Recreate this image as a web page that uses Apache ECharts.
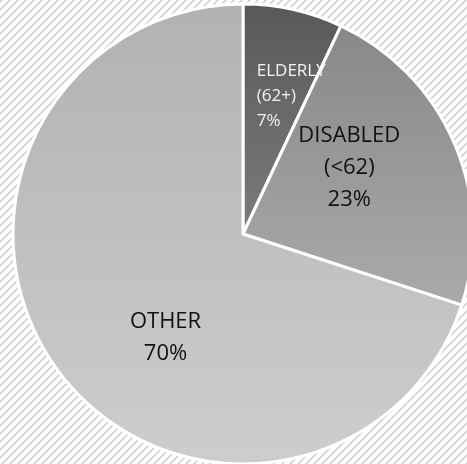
<!DOCTYPE html>
<html>
<head>
<meta charset="utf-8">
<script src="https://cdn.jsdelivr.net/npm/echarts@6/dist/echarts.min.js"></script>
<style>
  html, body { margin: 0; padding: 0; background: #fff; }
  #chart { width: 467px; height: 464px; }
</style>
</head>
<body>
<div id="chart"></div>
<script>
// Household groups and their shares (%)
const categoryLines = [['ELDERLY', '(62+)'], ['DISABLED', '(<62)'], ['OTHER']];
const shares = [7, 23, 70];

// Fill gradients (top → bottom) and label styling for each slice
const gradientStops = [
  ['#585858', '#7c7c7c'],
  ['#888888', '#aaaaaa'],
  ['#b2b2b2', '#cdcdcd']
];
const labelColors = ['#f2f2f2', '#111111', '#111111'];
const labelSizes = [17, 22, 22];
const labelLines = [25, 32, 32];
const labelAlign = ['left', 'center', 'center'];
const labelBoxWidth = [72, 110, 80];
const labelShift = [[24, -23], [-2, -19], [18, 34]];

// Diagonal hatch used as page background
function hatchPattern() {
  const c = document.createElement('canvas');
  c.width = 8; c.height = 8;
  const g = c.getContext('2d');
  g.fillStyle = '#ffffff';
  g.fillRect(0, 0, 8, 8);
  g.fillStyle = '#dadada';
  for (let y = 0; y < 8; y++) {
    for (let x = 0; x < 8; x++) {
      if (((x + y) % 8) < 3) g.fillRect(x, y, 1, 1);
    }
  }
  return c;
}

const chart = echarts.init(document.getElementById('chart'), null, { renderer: 'canvas' });

const data = categoryLines.map((lines, i) => ({
  name: lines.join(' '),
  value: shares[i],
  itemStyle: {
    color: new echarts.graphic.LinearGradient(0, 0, 0, 1, [
      { offset: 0, color: gradientStops[i][0] },
      { offset: 1, color: gradientStops[i][1] }
    ])
  },
  label: {
    formatter: lines.concat([shares[i] + '%']).map(t => '{t|' + t + '}').join('\n'),
    rich: {
      t: {
        color: labelColors[i],
        fontSize: labelSizes[i],
        lineHeight: labelLines[i],
        width: labelBoxWidth[i],
        align: labelAlign[i],
        fontFamily: '"Open Sans", "Noto Sans", sans-serif'
      }
    }
  }
}));

chart.setOption({
  animation: false,
  graphic: [{
    type: 'rect',
    z: -10,
    silent: true,
    shape: { x: 0, y: 0, width: 467, height: 464 },
    style: { fill: { image: hatchPattern(), repeat: 'repeat' } }
  }],
  series: [{
    type: 'pie',
    center: [243, 234],
    radius: [0, 230],
    startAngle: 90,
    clockwise: true,
    data: data,
    itemStyle: { borderColor: '#ffffff', borderWidth: 3 },
    label: {
      show: true,
      position: 'inside'
    },
    labelLine: { show: false },
    labelLayout: function (p) {
      const s = labelShift[p.dataIndex];
      return { dx: s[0], dy: s[1] };
    },
    emphasis: { disabled: true }
  }]
});
</script>
</body>
</html>
